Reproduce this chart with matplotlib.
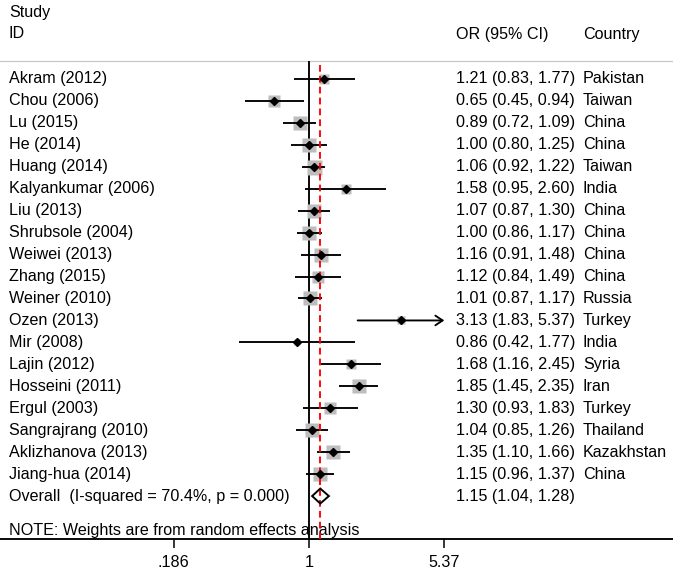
import numpy as np
import matplotlib
matplotlib.use("Agg")
import matplotlib.pyplot as plt
from matplotlib.patches import Polygon
from matplotlib.ticker import NullLocator
from matplotlib.transforms import blended_transform_factory

plt.rcParams['font.family'] = ['Liberation Sans', 'DejaVu Sans']

# data
studies = ["Akram (2012)", "Chou (2006)", "Lu (2015)", "He (2014)", "Huang (2014)",
           "Kalyankumar (2006)", "Liu (2013)", "Shrubsole (2004)", "Weiwei (2013)",
           "Zhang (2015)", "Weiner (2010)", "Ozen (2013)", "Mir (2008)", "Lajin (2012)",
           "Hosseini (2011)", "Ergul (2003)", "Sangrajrang (2010)", "Aklizhanova (2013)",
           "Jiang-hua (2014)"]
odds = [1.21, 0.65, 0.89, 1.00, 1.06, 1.58, 1.07, 1.00, 1.16, 1.12, 1.01, 3.13,
        0.86, 1.68, 1.85, 1.30, 1.04, 1.35, 1.15]
lower = [0.83, 0.45, 0.72, 0.80, 0.92, 0.95, 0.87, 0.86, 0.91, 0.84, 0.87, 1.83,
         0.42, 1.16, 1.45, 0.93, 0.85, 1.10, 0.96]
upper = [1.77, 0.94, 1.09, 1.25, 1.22, 2.60, 1.30, 1.17, 1.48, 1.49, 1.17, 5.37,
         1.77, 2.45, 2.35, 1.83, 1.26, 1.66, 1.37]
countries = ["Pakistan", "Taiwan", "China", "China", "Taiwan", "India", "China",
             "China", "China", "China", "Russia", "Turkey", "India", "Syria", "Iran",
             "Turkey", "Thailand", "Kazakhstan", "China"]
# approximate random-effects weights (%), judged from square sizes
weights = [3.9, 4.0, 6.3, 6.1, 7.4, 2.7, 6.4, 7.2, 5.7, 5.1, 7.3, 2.5, 1.6, 3.9,
           5.8, 4.4, 6.5, 6.4, 6.8]
overall = [1.15, 1.04, 1.28]
i_squared = 70.4
p_value = 0.000
xticks = [0.186, 1, 5.37]

W, H = 673, 575
AXIS_Y = 539            # pixel row of the x axis
ROW0, ROW_H = 79, 21.95  # pixel row of first study, row spacing
X_ONE, PX_PER_LN = 309, 80.5
FS = 11.6
LW = 1.35

fig = plt.figure(figsize=(W / 100, H / 100), dpi=100)
ax = fig.add_axes([0, (H - AXIS_Y) / H, 1, AXIS_Y / H])
ax.set_xscale('log')
ax.set_xlim(np.exp(-X_ONE / PX_PER_LN), np.exp((W - X_ONE) / PX_PER_LN))


def yrow(px):
    return (px - ROW0) / ROW_H


ax.set_ylim(yrow(AXIS_Y), yrow(0))
trans = blended_transform_factory(ax.transAxes, ax.transData)

sep_y = yrow(61.5)
bottom = yrow(AXIS_Y)
ax.axhline(sep_y, color='#c8c8c8', lw=0.9, zorder=1)
ax.vlines(1, sep_y, bottom, color='black', lw=LW, zorder=2)
ax.vlines(overall[0], sep_y + 0.15, bottom, color='red', lw=LW,
          linestyles=[(0, (3.6, 2.2))], zorder=5)

xmax_tick = xticks[-1]
for i, (s, o, lo, hi, c, w) in enumerate(zip(studies, odds, lower, upper,
                                                countries, weights)):
    side_px = 15 * np.sqrt(w / 7.4)
    ax.plot(o, i, marker='s', ms=side_px * 0.72, color='#bdbdbd', mec='none',
            zorder=3)
    if hi >= xmax_tick:
        ax.annotate('', xy=(xmax_tick, i), xytext=(lo, i),
                    arrowprops=dict(arrowstyle='->,head_length=0.45,head_width=0.3',
                                    lw=LW, color='black', shrinkA=0, shrinkB=0),
                    fontsize=FS, zorder=4)
    else:
        ax.plot([lo, hi], [i, i], color='black', lw=LW, zorder=4,
                solid_capstyle='butt')
    ax.plot(o, i, marker='D', ms=3.6, color='black', zorder=6)
    ax.text(9 / W, i, s, transform=trans, va='center', ha='left', fontsize=FS)
    ax.text(456 / W, i, f"{o:.2f} ({lo:.2f}, {hi:.2f})", transform=trans,
            va='center', ha='left', fontsize=FS)
    ax.text(583 / W, i, c, transform=trans, va='center', ha='left', fontsize=FS)

# overall diamond
n = len(studies)
h = 7.5 / ROW_H
ov, olo, ohi = overall
ax.add_patch(Polygon([(olo, n), (ov, n - h), (ohi, n), (ov, n + h)],
                     closed=True, facecolor='none', edgecolor='black', lw=1.4,
                     zorder=6))
ax.text(9 / W, n, f"Overall  (I-squared = {i_squared:.1f}%, p = {p_value:.3f})",
        transform=trans, va='center', ha='left', fontsize=FS)
ax.text(456 / W, n, f"{ov:.2f} ({olo:.2f}, {ohi:.2f})", transform=trans,
        va='center', ha='left', fontsize=FS)
ax.text(9 / W, yrow(530), "NOTE: Weights are from random effects analysis",
        transform=trans, va='center', ha='left', fontsize=FS)

# headers
ax.text(9 / W, yrow(13), "Study", transform=trans, va='center', fontsize=FS)
ax.text(9 / W, yrow(34), "ID", transform=trans, va='center', fontsize=FS)
ax.text(456 / W, yrow(34), "OR (95% CI)", transform=trans, va='center', fontsize=FS)
ax.text(583 / W, yrow(34), "Country", transform=trans, va='center', fontsize=FS)

# axis
for side in ['top', 'left', 'right']:
    ax.spines[side].set_visible(False)
ax.spines['bottom'].set_linewidth(LW)
ax.set_yticks([])
ax.set_xticks(xticks)
ax.set_xticklabels([f"{t:g}".lstrip('0') if t < 1 else f"{t:g}" for t in xticks])
ax.xaxis.set_minor_locator(NullLocator())
ax.tick_params(axis='x', length=6.5, width=1.1, pad=5, labelsize=FS)

fig.savefig("out.png", dpi=100)
